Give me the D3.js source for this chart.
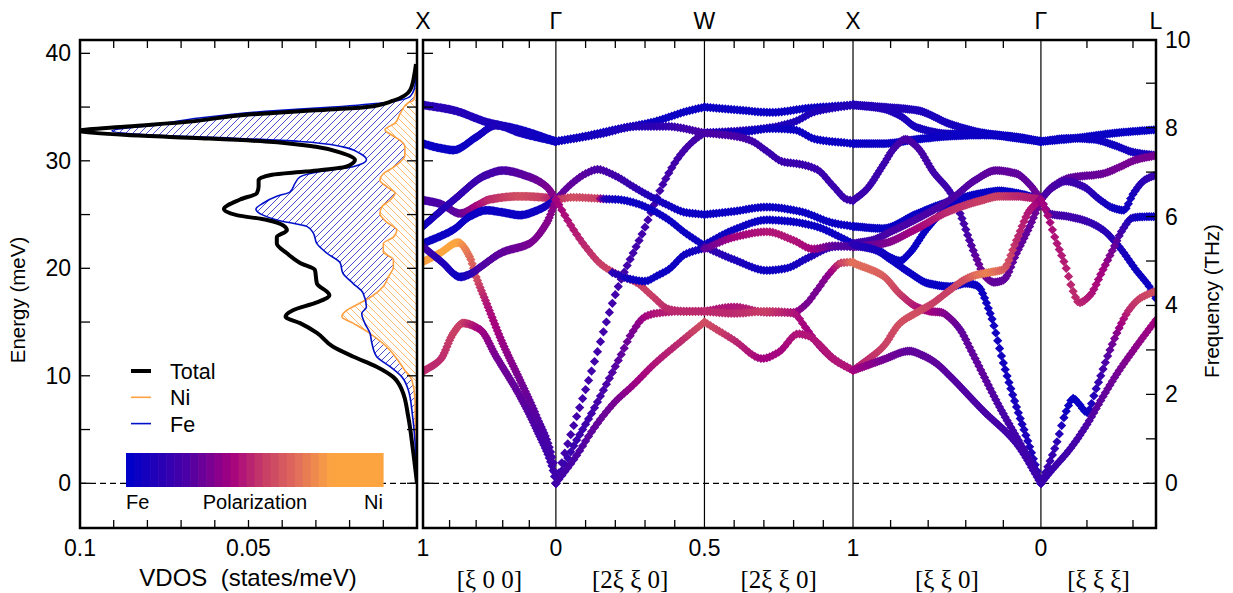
<!DOCTYPE html>
<html><head><meta charset="utf-8">
<script src="https://cdn.jsdelivr.net/npm/d3@7"></script>
<style>body{margin:0;background:#fff}svg{display:block}text{font-family:"Liberation Sans",Arial,sans-serif;fill:#000}</style>
</head><body><svg id="c" width="1233" height="593"></svg>
<script>
// ---------------- DATA ----------------
// VDOS (energy meV, states/meV)
const totalE = [0,3.1,6.2,8.7,9.9,10.85,11.8,12.7,14.0,14.9,15.5,16.1,16.8,17.5,18.6,19.85,20.5,21.4,22.3,22.9,23.55,24.0,24.5,24.95,25.5,26.4,27.0,27.6,28.2,28.7,29.0,29.45,30.1,30.7,31.3,31.8,32.1,32.4,32.8,33.2,33.6,34.3,34.7,35.0,35.6,36.6,38.0,39.0];
const totalV = [0,0.0012,0.0026,0.0045,0.0071,0.012,0.019,0.0249,0.0297,0.0347,0.039,0.0368,0.030,0.026,0.0297,0.0303,0.0347,0.0386,0.0416,0.0416,0.0386,0.0397,0.0445,0.0535,0.0573,0.0525,0.0475,0.047,0.047,0.043,0.033,0.021,0.0184,0.022,0.030,0.045,0.064,0.086,0.1,0.086,0.069,0.050,0.030,0.015,0.007,0.002,0.0008,0.0003];
const feE = [0,6.2,8.7,9.9,10.85,11.8,13.05,14.0,14.9,15.8,16.4,17.7,18.6,19.55,20.5,21.4,22.3,23.3,23.9,24.5,24.95,25.5,26.05,26.7,27.1,27.9,28.5,29.0,29.45,30.1,30.7,31.3,31.8,32.1,32.4,32.8,33.3,34.0,34.6,35.0,35.4,36.0,37.0,39.0];
const feV = [0,0.0013,0.0026,0.0045,0.008,0.012,0.0134,0.014,0.0155,0.0164,0.015,0.016,0.019,0.022,0.0228,0.0267,0.0297,0.0308,0.0327,0.0416,0.0457,0.0478,0.0457,0.0416,0.0377,0.0362,0.0347,0.0288,0.019,0.015,0.017,0.022,0.0347,0.0545,0.079,0.0905,0.079,0.064,0.045,0.025,0.010,0.002,0.0006,0.0002];
const niE = [0,5.6,7.75,9.6,10.5,11.8,12.7,13.95,14.9,15.5,16.1,16.75,17.4,18.3,19.2,20.15,20.8,21.55,22.3,22.9,23.55,24.3,25.1,25.7,26.35,27.0,27.6,28.2,28.8,29.3,29.9,30.5,31.3,31.9,32.4,32.9,33.5,34.4,35.4,35.6,36.6,37.0];
const niV = [0,0.0005,0.0006,0.0015,0.0036,0.0065,0.009,0.014,0.019,0.0223,0.0208,0.017,0.0134,0.010,0.0085,0.007,0.007,0.010,0.010,0.007,0.006,0.009,0.011,0.0105,0.008,0.0065,0.009,0.011,0.010,0.0075,0.005,0.0036,0.0036,0.005,0.0075,0.0095,0.0065,0.005,0.0026,0.0012,0.0003,0];

// Dispersion branches: [t (fraction along segment), energy meV, polarization 0=Fe..1=Ni]
const xgBranches = [
  [[0,35.2,0.14],[0.23,34.7,0.13],[0.48,33.6,0.1],[0.73,32.9,0.06],[1,31.8,0.04]],
  [[0,31.6,0.04],[0.12,31.2,0.03],[0.23,31.0,0.03],[0.4,32.2,0.05],[0.55,33.3,0.1],[0.73,32.6,0.07],[1,31.8,0.04]],
  [[0,10.4,0.55],[0.13,11.5,0.55],[0.23,14.0,0.6],[0.3,14.9,0.6],[0.43,14.3,0.45],[0.55,11.8,0.35],[0.73,8.1,0.3],[0.855,5.0,0.25],[0.98,1.2,0.2],[1,0,0.2]],
  [[0,20.6,0.88],[0.125,21.4,0.9],[0.266,22.4,0.9],[0.35,21.1,0.75],[0.4,19.2,0.65],[0.48,16.7,0.5],[0.6,13.0,0.42],[0.73,9.6,0.35],[0.855,6.2,0.28],[0.98,1.9,0.22],[1,0,0.2]],
  [[0,26.35,0.25],[0.13,26.0,0.25],[0.28,25.1,0.3],[0.4,25.8,0.45],[0.5,26.4,0.55],[0.73,26.7,0.65],[0.9,26.6,0.6],[1,26.4,0.5]],
  [[0,23.9,0.05],[0.23,26.35,0.15],[0.48,28.7,0.22],[0.6,29.1,0.25],[0.8,28.5,0.3],[0.93,27.6,0.35],[1,26.4,0.4]],
  [[0,22.3,0.04],[0.23,23.6,0.04],[0.35,24.8,0.04],[0.48,25.4,0.04],[0.6,25.2,0.04],[0.73,24.95,0.04],[0.88,25.5,0.05],[1,26.4,0.1]],
  [[0,22.0,0.25],[0.14,20.6,0.12],[0.28,19.2,0.04],[0.36,19.5,0.12],[0.43,20.1,0.25],[0.6,21.5,0.3],[0.8,22.3,0.35],[0.93,24.2,0.38],[1,26.3,0.4]]
];
const gwBranches = [
  [[0,31.8,0.04],[0.2,32.3,0.04],[0.43,33.0,0.04],[0.65,33.6,0.04],[0.88,34.6,0.04],[1,35.0,0.04]],
  [[0,31.8,0.05],[0.3,32.5,0.08],[0.55,33.2,0.12],[0.75,33.2,0.18],[1,32.6,0.25]],
  [[0,0,0.22],[0.04,1.9,0.22],[0.23,10.0,0.22],[0.42,18.3,0.22],[0.59,23.5,0.22],[0.72,27.8,0.22],[0.83,30.4,0.22],[0.93,31.9,0.22],[1,32.6,0.25]],
  [[0,0,0.2],[0.128,3.7,0.2],[0.24,6.5,0.22],[0.354,9.6,0.25],[0.444,12.1,0.3],[0.51,13.95,0.35],[0.6,15.5,0.45],[0.67,15.8,0.5],[0.85,16.0,0.55],[1,16.0,0.55]],
  [[0,0,0.22],[0.13,2.4,0.25],[0.26,5.2,0.3],[0.4,7.6,0.35],[0.51,9.0,0.42],[0.67,11.2,0.5],[0.85,13.3,0.55],[1,15.0,0.65]],
  [[0,26.4,0.3],[0.1,27.8,0.3],[0.2,28.8,0.28],[0.28,29.2,0.25],[0.4,28.6,0.22],[0.52,27.6,0.18],[0.62,26.8,0.12],[0.75,25.9,0.06],[0.87,25.2,0.04],[1,25.0,0.04]],
  [[0,26.4,0.55],[0.12,26.6,0.65],[0.28,26.5,0.6],[0.33,26.45,0.1],[0.42,26.4,0.04],[0.54,26.05,0.04],[0.65,25.4,0.04],[0.76,24.5,0.04],[0.87,23.3,0.04],[1,22.1,0.05]],
  [[0,26.4,0.45],[0.1,24.0,0.5],[0.2,22.0,0.55],[0.31,20.3,0.6],[0.42,19.4,0.62],[0.54,18.7,0.6],[0.65,17.4,0.6],[0.76,16.2,0.55],[0.87,16.0,0.55],[1,16.0,0.55]],
  [[0.38,19.6,0.15],[0.5,19.0,0.05],[0.6,18.8,0.04],[0.68,19.3,0.04],[0.76,19.9,0.04],[0.87,21.3,0.05],[1,21.9,0.08]]
];
const wxBranches = [
  [[0,35.0,0.04],[0.25,34.7,0.04],[0.45,34.5,0.04],[0.7,34.9,0.04],[1,35.2,0.06]],
  [[0,32.6,0.2],[0.25,32.8,0.15],[0.45,33.1,0.12],[0.6,33.6,0.1],[0.75,34.6,0.1],[1,35.2,0.12]],
  [[0,32.6,0.06],[0.2,32.6,0.05],[0.45,33.0,0.05],[0.6,32.9,0.04],[0.75,32.0,0.04],[1,31.6,0.04]],
  [[0,32.6,0.25],[0.2,32.3,0.25],[0.31,31.9,0.22],[0.42,30.9,0.2],[0.53,29.9,0.2],[0.64,29.7,0.2],[0.756,29.2,0.2],[0.87,27.6,0.2],[0.96,26.4,0.2],[1,26.3,0.2]],
  [[0,25.0,0.04],[0.2,25.3,0.04],[0.42,25.7,0.04],[0.64,25.3,0.04],[0.87,24.2,0.04],[1,23.9,0.04]],
  [[0,22.2,0.05],[0.2,23.6,0.04],[0.42,24.5,0.04],[0.55,24.4,0.04],[0.75,23.9,0.04],[0.9,23.0,0.04],[1,22.3,0.04]],
  [[0,22.0,0.2],[0.2,20.8,0.1],[0.42,19.8,0.05],[0.55,20.0,0.05],[0.7,21.0,0.1],[0.87,22.0,0.2],[1,22.1,0.2]],
  [[0,21.8,0.3],[0.2,22.9,0.45],[0.42,23.4,0.5],[0.6,22.6,0.5],[0.73,21.8,0.45],[0.87,22.1,0.3],[1,22.0,0.25]],
  [[0,16.0,0.5],[0.2,16.4,0.5],[0.42,15.9,0.55],[0.6,15.9,0.45],[0.68,16.6,0.35],[0.76,18.0,0.35],[0.84,19.5,0.4],[0.92,20.5,0.6],[1,20.6,0.75]],
  [[0,16.0,0.55],[0.2,15.8,0.55],[0.42,16.0,0.6],[0.6,15.8,0.5],[0.68,14.5,0.45],[0.76,13.0,0.45],[0.87,11.5,0.5],[1,10.5,0.5]],
  [[0,15.0,0.65],[0.2,13.3,0.55],[0.39,11.6,0.45],[0.5,12.2,0.45],[0.63,13.9,0.5],[0.7,13.7,0.5],[0.76,13.1,0.5],[0.87,11.6,0.5],[1,10.5,0.5]]
];
const xkgBranches = [
  [[0,35.2,0.12],[0.16,35.0,0.12],[0.34,34.7,0.1],[0.52,33.4,0.08],[0.69,32.6,0.05],[0.87,32.2,0.04],[1,31.8,0.04]],
  [[0,35.2,0.12],[0.16,34.85,0.12],[0.25,34.2,0.1],[0.34,33.1,0.08],[0.52,32.5,0.06],[0.69,32.5,0.05],[0.87,32.1,0.04],[1,31.8,0.04]],
  [[0,31.6,0.04],[0.16,31.6,0.04],[0.34,32.0,0.04],[0.52,32.3,0.04],[0.69,32.4,0.04],[0.87,32.2,0.04],[1,31.8,0.04]],
  [[0,26.3,0.2],[0.07,27.3,0.2],[0.16,29.6,0.2],[0.22,31.2,0.22],[0.28,32.0,0.25],[0.34,31.3,0.25],[0.43,28.9,0.22],[0.52,27.0,0.2],[0.57,25.1,0.22],[0.62,22.6,0.25],[0.66,20.8,0.3],[0.7,19.3,0.35],[0.75,18.7,0.3],[0.8,18.9,0.3],[0.87,21.4,0.3],[0.94,23.9,0.3],[1,26.4,0.35]],
  [[0,23.9,0.04],[0.16,23.7,0.03],[0.33,25.0,0.03],[0.51,26.2,0.03],[0.69,27.0,0.03],[0.78,27.2,0.03],[0.87,27.0,0.03],[1,26.4,0.04]],
  [[0,22.1,0.1],[0.12,21.8,0.05],[0.2,21.0,0.03],[0.25,20.7,0.03],[0.3,21.4,0.03],[0.39,23.6,0.03],[0.47,25.1,0.03],[0.55,25.9,0.03],[0.69,26.8,0.03],[0.78,27.0,0.03],[0.87,26.9,0.03],[1,26.4,0.04]],
  [[0,22.3,0.2],[0.1,22.6,0.22],[0.2,23.4,0.25],[0.34,24.6,0.25],[0.52,26.4,0.25],[0.65,28.2,0.28],[0.76,29.1,0.3],[0.87,28.8,0.3],[0.94,27.8,0.3],[1,26.4,0.35]],
  [[0,22.0,0.3],[0.16,22.3,0.35],[0.33,23.6,0.45],[0.51,25.3,0.55],[0.69,26.35,0.6],[0.78,26.7,0.6],[0.87,26.7,0.55],[1,26.4,0.5]],
  [[0,22.2,0.15],[0.12,21.7,0.08],[0.2,20.8,0.04],[0.3,19.6,0.04],[0.4,18.6,0.03],[0.52,18.3,0.03],[0.6,18.6,0.03],[0.66,18.4,0.04],[0.73,15.8,0.05],[0.8,11.2,0.06],[0.87,7.1,0.08],[0.94,3.4,0.1],[1,0,0.15]],
  [[0,20.5,0.75],[0.16,19.3,0.7],[0.25,17.6,0.6],[0.34,16.4,0.5],[0.41,16.0,0.45],[0.47,15.9,0.4],[0.52,15.3,0.35],[0.57,14.3,0.3],[0.63,12.3,0.3],[0.69,10.2,0.3],[0.78,7.1,0.25],[0.87,4.3,0.22],[0.96,1.5,0.2],[1,0,0.2]],
  [[0,10.5,0.5],[0.07,11.4,0.55],[0.16,12.7,0.6],[0.25,14.9,0.65],[0.34,15.9,0.65],[0.42,16.7,0.6],[0.51,17.9,0.6],[0.6,19.0,0.65],[0.66,19.4,0.75],[0.72,19.6,0.8],[0.8,19.9,0.7],[0.87,22.6,0.55],[0.94,25.4,0.5],[1,26.4,0.45]],
  [[0,10.5,0.45],[0.08,11.0,0.4],[0.16,11.5,0.35],[0.3,12.3,0.3],[0.37,11.9,0.3],[0.44,11.2,0.3],[0.52,9.9,0.28],[0.69,6.8,0.25],[0.87,3.7,0.22],[1,0,0.2]]
];
const glBranches = [
  [[0,31.8,0.03],[0.22,32.0,0.03],[0.37,32.2,0.03],[0.66,32.6,0.03],[1,32.9,0.03]],
  [[0,31.8,0.04],[0.25,32.1,0.04],[0.45,32.0,0.05],[0.65,31.4,0.06],[0.8,30.8,0.08],[1,30.5,0.1]],
  [[0,26.4,0.25],[0.1,27.6,0.28],[0.246,28.4,0.3],[0.536,28.8,0.32],[0.68,29.4,0.35],[0.826,30.1,0.35],[1,30.5,0.35]],
  [[0,26.4,0.25],[0.1,27.5,0.25],[0.22,28.1,0.22],[0.37,27.6,0.18],[0.51,26.4,0.1],[0.63,25.6,0.05],[0.72,25.4,0.04],[0.8,26.9,0.08],[0.9,28.2,0.15],[1,28.7,0.2]],
  [[0,26.4,0.3],[0.072,25.1,0.25],[0.246,24.8,0.22],[0.391,24.4,0.2],[0.536,23.6,0.15],[0.68,22.0,0.1],[0.826,19.85,0.05],[0.942,18.3,0.04],[1,17.2,0.04]],
  [[0,26.4,0.45],[0.043,25.4,0.45],[0.13,22.6,0.5],[0.217,20.1,0.52],[0.275,18.0,0.55],[0.333,16.8,0.55],[0.42,17.4,0.5],[0.536,19.8,0.45],[0.623,21.7,0.35],[0.71,23.6,0.2],[0.797,24.7,0.08],[0.913,24.8,0.04],[1,24.8,0.04]],
  [[0,0,0.2],[0.07,1.8,0.2],[0.135,3.7,0.15],[0.22,6.7,0.05],[0.28,7.9,0.03],[0.33,7.4,0.03],[0.4,6.6,0.04],[0.48,8.8,0.15],[0.6,12.4,0.3],[0.7,14.9,0.45],[0.77,16.2,0.55],[0.86,17.2,0.6],[1,17.9,0.65]],
  [[0,0,0.2],[0.1,1.3,0.2],[0.246,3.1,0.22],[0.39,5.3,0.25],[0.536,8.0,0.3],[0.68,10.5,0.35],[0.826,12.7,0.4],[1,15.2,0.45]]
];

const topLabels = ['X','Γ','W','X','Γ','L'];
const bottomLabels = ['1','0','0.5','1','0',''];
const dirLabels = ['[ξ 0 0]','[2ξ ξ 0]','[2ξ ξ 0]','[ξ ξ 0]','[ξ ξ ξ]'];
const segLengths = [1, 1.118, 1.118, 1.414, 0.866];
const segSteps = [100, 50, 50, 100, 50];
const segTicks = [[0.2,0.4,0.6,0.8],[0.2,0.4,0.6,0.8],[0.2,0.4,0.6,0.8],[0.2,0.4,0.6,0.8],[0.4,0.8]];
const energyTicks = [0,5,10,15,20,25,30,35,40];
const energyLabels = [0,10,20,30,40];
const vdosTicks = [0.01,0.02,0.03,0.04,0.05,0.06,0.07,0.08,0.09];
const vdosLabels = [0.1,0.05];
const thzTicks = [0,1,2,3,4,5,6,7,8,9,10];
const thzLabels = [0,2,4,6,8,10];
const polStops = [0,0.25,0.45,0.6,0.75,0.87,0.9,1];
const polColors = ['#0000c8','#4a00a6','#a4007f','#c83f66','#e2705a','#f79c47','#fca540','#fca540'];
const legendItems = [['Total','#000',4],['Ni','#ffa040',1.6],['Fe','#0010c8',1.6]];

// ---------------- RENDER ----------------
const svg = d3.select('#c');
const meV_per_THz = 4.1357;
const yE = d3.scaleLinear().domain([-4.16, 41.24]).range([528, 40]);
const xV = d3.scaleLinear().domain([0.1, 0]).range([80, 417]);
const nodes = [0]; segLengths.forEach(l => nodes.push(nodes[nodes.length-1] + l));
const xK = d3.scaleLinear().domain([0, nodes[nodes.length-1]]).range([423, 1156]);
const cmap = d3.scaleLinear().domain(polStops).range(polColors).interpolate(d3.interpolateRgb).clamp(true);

const defs = svg.append('defs');
defs.append('clipPath').attr('id','clipL').append('rect').attr('x',80).attr('y',40).attr('width',337).attr('height',488);
defs.append('clipPath').attr('id','clipR').append('rect').attr('x',423).attr('y',40).attr('width',733).attr('height',488);
const pFe = defs.append('pattern').attr('id','hFe').attr('patternUnits','userSpaceOnUse').attr('width',7).attr('height',7);
pFe.append('path').attr('d','M-1,1 L1,-1 M0,7 L7,0 M6,8 L8,6').attr('stroke','#3838cc').attr('stroke-width',0.9);
const pNi = defs.append('pattern').attr('id','hNi').attr('patternUnits','userSpaceOnUse').attr('width',7).attr('height',7);
pNi.append('path').attr('d','M-1,6 L1,8 M0,0 L7,7 M6,-1 L8,1').attr('stroke','#ffb060').attr('stroke-width',0.9);

// ---- left panel: VDOS
const gL = svg.append('g').attr('clip-path','url(#clipL)');
const area = (E, V) => d3.area().curve(d3.curveMonotoneY).y((d,i)=>yE(E[i])).x0(xV(0)).x1((d,i)=>xV(V[i]))(E);
const line = (E, V) => d3.line().curve(d3.curveMonotoneY).y((d,i)=>yE(E[i])).x((d,i)=>xV(V[i]))(E);
gL.append('path').attr('d', area(feE, feV)).attr('fill','url(#hFe)');
gL.append('path').attr('d', area(niE, niV)).attr('fill','#fff');
gL.append('path').attr('d', area(niE, niV)).attr('fill','url(#hNi)');
svg.append('line').attr('x1',80).attr('x2',417).attr('y1',yE(0)).attr('y2',yE(0)).attr('stroke','#000').attr('stroke-width',1.2).attr('stroke-dasharray','6,4');
svg.append('line').attr('x1',423).attr('x2',1156).attr('y1',yE(0)).attr('y2',yE(0)).attr('stroke','#000').attr('stroke-width',1.2).attr('stroke-dasharray','6,4');
gL.append('path').attr('d', line(niE, niV)).attr('fill','none').attr('stroke','#ffa040').attr('stroke-width',1.6);
gL.append('path').attr('d', line(feE, feV)).attr('fill','none').attr('stroke','#0010c8').attr('stroke-width',1.6);
gL.append('path').attr('d', line(totalE, totalV)).attr('fill','none').attr('stroke','#000').attr('stroke-width',4);

// legend
legendItems.forEach((it, i) => {
  const y = 371 + i*26.3;
  svg.append('line').attr('x1',131).attr('x2',151).attr('y1',y).attr('y2',y).attr('stroke',it[1]).attr('stroke-width',it[2]);
  svg.append('text').attr('x',170).attr('y',y+8).attr('font-size',21.5).text(it[0]);
});
// colorbar
const nBands = 32;
const cbX = d3.scaleLinear().domain([0, nBands]).range([126, 383]);
svg.append('g').selectAll('rect').data(d3.range(nBands)).join('rect')
  .attr('x', i => cbX(i)).attr('width', i => cbX(i+1)-cbX(i)+0.6).attr('y',453).attr('height',34)
  .attr('fill', i => cmap(Math.min(1, i/28)));
svg.append('text').attr('x',126).attr('y',509).attr('font-size',20).text('Fe');
svg.append('text').attr('x',255).attr('y',509).attr('font-size',20).attr('text-anchor','middle').text('Polarization');
svg.append('text').attr('x',383).attr('y',509).attr('font-size',20).attr('text-anchor','end').text('Ni');

// ---- right panel: dispersion
nodes.slice(1, -1).forEach(n => {
  svg.append('line').attr('x1',xK(n)).attr('x2',xK(n)).attr('y1',40).attr('y2',528).attr('stroke','#000').attr('stroke-width',1.2);
});
const gR = svg.append('g').attr('clip-path','url(#clipR)');
const r = 4.6;
const diamond = `M0,${-r}L${r},0L0,${r}L${-r},0Z`;
function monotone(xs, ys) {
  const n = xs.length, d = [], m = new Array(n);
  for (let i=0;i<n-1;i++) d.push((ys[i+1]-ys[i])/(xs[i+1]-xs[i]));
  m[0] = d[0]; m[n-1] = d[n-2];
  for (let i=1;i<n-1;i++) {
    if (d[i-1]*d[i] <= 0) m[i] = 0;
    else { const h0 = xs[i]-xs[i-1], h1 = xs[i+1]-xs[i]; const w1 = 2*h1+h0, w2 = h1+2*h0; m[i] = (w1+w2)/(w1/d[i-1]+w2/d[i]); }
  }
  return t => {
    let i = 0; while (i < n-2 && t > xs[i+1]) i++;
    const h = xs[i+1]-xs[i], s = (t-xs[i])/h;
    const h00 = 2*s*s*s-3*s*s+1, h10 = s*s*s-2*s*s+s, h01 = -2*s*s*s+3*s*s, h11 = s*s*s-s*s;
    return h00*ys[i] + h10*h*m[i] + h01*ys[i+1] + h11*h*m[i+1];
  };
}
[xgBranches, gwBranches, wxBranches, xkgBranches, glBranches].forEach((branches, s) => {
  const x0 = nodes[s], len = segLengths[s], N = segSteps[s];
  branches.forEach(br => {
    const ts = br.map(d => d[0]), es = br.map(d => d[1]), ps = br.map(d => d[2]);
    const fE = monotone(ts, es);
    const fP = d3.scaleLinear().domain(ts).range(ps).clamp(true);
    const pts = [];
    for (let k=0;k<=N;k++) {
      const t = k/N;
      if (t < ts[0]-1e-9 || t > ts[ts.length-1]+1e-9) continue;
      pts.push({x: xK(x0 + t*len), y: yE(fE(t)), c: cmap(fP(t))});
    }
    gR.append('g').selectAll('path').data(pts).join('path')
      .attr('d', diamond).attr('transform', d => `translate(${d.x},${d.y})`).attr('fill', d => d.c);
  });
});

// ---- axes & frames
const tk = svg.append('g').attr('stroke','#000').attr('stroke-width',1.3);
energyTicks.forEach(e => {
  const y = yE(e);
  tk.append('line').attr('x1',80).attr('x2',90).attr('y1',y).attr('y2',y);
  tk.append('line').attr('x1',417).attr('x2',407).attr('y1',y).attr('y2',y);
  tk.append('line').attr('x1',423).attr('x2',433).attr('y1',y).attr('y2',y);
});
vdosTicks.forEach(v => {
  const x = xV(v);
  tk.append('line').attr('x1',x).attr('x2',x).attr('y1',40).attr('y2',48);
  tk.append('line').attr('x1',x).attr('x2',x).attr('y1',528).attr('y2',520);
});
thzTicks.forEach(f => {
  const y = yE(f*meV_per_THz);
  if (y < 41) return;
  tk.append('line').attr('x1',1156).attr('x2',1146).attr('y1',y).attr('y2',y);
});
segTicks.forEach((tl, s) => tl.forEach(t => {
  const x = xK(nodes[s] + t*segLengths[s]);
  tk.append('line').attr('x1',x).attr('x2',x).attr('y1',40).attr('y2',48);
  tk.append('line').attr('x1',x).attr('x2',x).attr('y1',528).attr('y2',520);
}));
svg.append('rect').attr('x',80).attr('y',40).attr('width',337).attr('height',488).attr('fill','none').attr('stroke','#000').attr('stroke-width',2.5);
svg.append('rect').attr('x',423).attr('y',40).attr('width',733).attr('height',488).attr('fill','none').attr('stroke','#000').attr('stroke-width',2.5);

// labels
const fs = 23;
energyLabels.forEach(e => svg.append('text').attr('x',71).attr('y',yE(e)+8).attr('font-size',fs).attr('text-anchor','end').text(e));
vdosLabels.forEach(v => svg.append('text').attr('x',xV(v)).attr('y',556).attr('font-size',fs).attr('text-anchor','middle').text(v));
thzLabels.forEach(f => svg.append('text').attr('x',1165).attr('y',Math.max(yE(f*meV_per_THz),40)+8).attr('font-size',fs).text(f));
nodes.forEach((n, i) => {
  svg.append('text').attr('x',xK(n)).attr('y',29).attr('font-size',fs).attr('text-anchor','middle').text(topLabels[i]);
  if (bottomLabels[i]) svg.append('text').attr('x',xK(n)).attr('y',556).attr('font-size',fs).attr('text-anchor','middle').text(bottomLabels[i]);
});
dirLabels.forEach((t, s) => svg.append('text').attr('x',xK(nodes[s]+segLengths[s]/2)).attr('y',588)
  .attr('font-size',25).attr('text-anchor','middle').style('font-family','"Liberation Serif","Times New Roman",serif').text(t));
svg.append('text').attr('x',248).attr('y',586).attr('font-size',24).attr('text-anchor','middle').style('white-space','pre').text('VDOS  (states/meV)');
svg.append('text').attr('transform','translate(25,300) rotate(-90)').attr('font-size',20.5).attr('text-anchor','middle').text('Energy (meV)');
svg.append('text').attr('transform','translate(1219,301) rotate(-90)').attr('font-size',20.5).attr('text-anchor','middle').text('Frequency (THz)');
</script></body></html>
